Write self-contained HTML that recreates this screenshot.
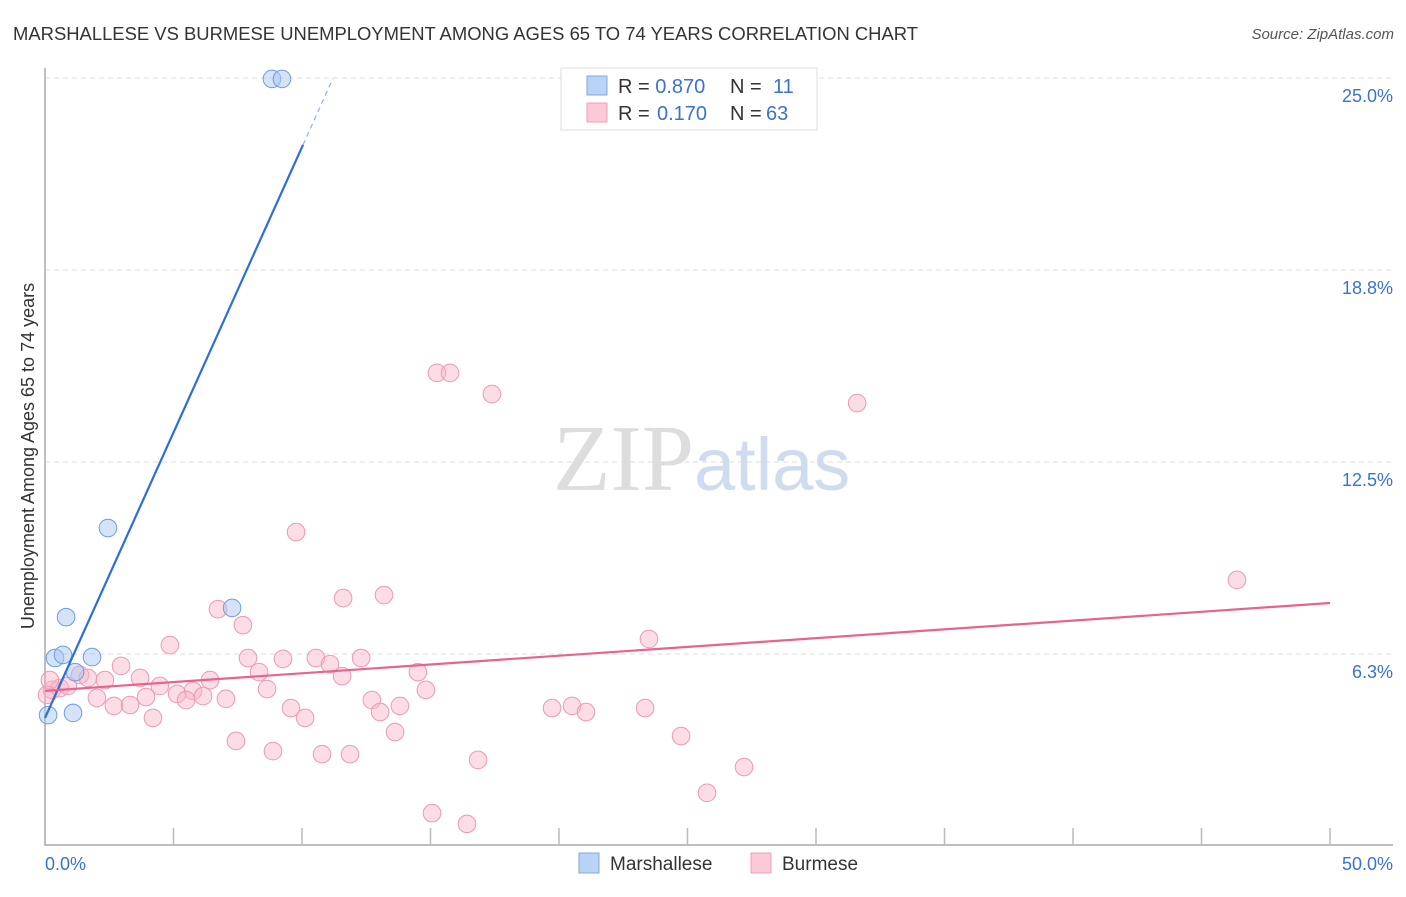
<!DOCTYPE html>
<html><head><meta charset="utf-8"><style>
body{margin:0;background:#fff;font-family:"Liberation Sans",sans-serif}
</style></head><body>
<svg width="1406" height="892" xmlns="http://www.w3.org/2000/svg" font-family="Liberation Sans, sans-serif">
<text x="13" y="40" font-size="18" fill="#333" textLength="905" lengthAdjust="spacingAndGlyphs">MARSHALLESE VS BURMESE UNEMPLOYMENT AMONG AGES 65 TO 74 YEARS CORRELATION CHART</text>
<text x="1394" y="39" font-size="15" fill="#555" text-anchor="end" font-style="italic">Source: ZipAtlas.com</text>
<g id="grid"></g>
<text x="553" y="490" font-size="94" fill="#ddd" font-family="Liberation Serif, serif">ZIP<tspan fill="#cfdcf0" font-family="Liberation Sans, sans-serif" font-size="74">atlas</tspan></text>
<g id="marks"></g>
<text transform="translate(34,456) rotate(-90)" font-size="18" fill="#333" text-anchor="middle">Unemployment Among Ages 65 to 74 years</text>
<g>
<rect x="561" y="68" width="256" height="62" fill="#fff" stroke="#ddd"/>
<rect x="587" y="76" width="20" height="19" fill="#b9d3f5" stroke="#7fa8e0"/>
<rect x="587" y="103" width="20" height="19" fill="#fbc9d8" stroke="#efa0b8"/>
<text x="618" y="93" font-size="20" fill="#333">R = <tspan fill="#3a72d0">0.870</tspan><tspan x="730">N = </tspan><tspan x="773" fill="#3a72d0">11</tspan></text>
<text x="618" y="120" font-size="20" fill="#333">R = <tspan x="657" fill="#3a72d0">0.170</tspan><tspan x="730">N = </tspan><tspan x="766" fill="#3a72d0">63</tspan></text>
</g>
<g>
<rect x="579" y="853" width="20" height="20" fill="#b9d3f5" stroke="#7fa8e0"/>
<text x="610" y="870" font-size="19" fill="#333">Marshallese</text>
<rect x="751" y="853" width="20" height="20" fill="#fbc9d8" stroke="#efa0b8"/>
<text x="782" y="870" font-size="19" fill="#333">Burmese</text>
</g>
</svg>
<script>
const yTicks=[6.25,12.5,18.75,25];
const yTickLabels=["6.3%","12.5%","18.8%","25.0%"];
const xTickLabels=["0.0%","50.0%"];
const marshX=[8.83,9.22,2.45,0.82,7.28,0.39,0.70,1.83,1.17,1.09,0.12];
const marshY=[24.97,24.97,10.35,7.45,7.75,6.12,6.22,6.15,5.66,4.33,4.26];
const burmX=[15.25,15.76,17.39,31.6,9.77,46.38,11.6,13.19,6.73,7.70,4.86,23.5,7.90,9.26,10.54,12.30,2.96,11.09,8.33,14.51,3.70,6.42,11.56,2.33,4.47,8.64,5.76,5.14,14.82,6.15,5.49,2.02,7.04,3.93,12.72,2.68,3.31,9.57,13.81,19.73,20.51,21.05,23.35,13.04,10.12,4.20,13.62,24.75,7.43,8.87,10.78,11.87,16.85,27.2,25.76,15.06,16.42,0.27,0.58,0.89,1.36,1.67,0.19,0.08];
const burmY=[15.40,15.40,14.71,14.42,10.22,8.66,8.07,8.17,7.71,7.19,6.54,6.74,6.12,6.09,6.12,6.12,5.86,5.92,5.66,5.66,5.47,5.40,5.53,5.40,5.21,5.11,5.05,4.95,5.08,4.88,4.75,4.82,4.79,4.85,4.75,4.56,4.59,4.49,4.56,4.49,4.56,4.36,4.49,4.36,4.17,4.17,3.71,3.58,3.42,3.09,2.99,2.99,2.80,2.57,1.73,1.07,0.72,5.08,5.14,5.21,5.57,5.47,5.40,4.92];
const marshFit=[4.17,1.858];
const burmFit=[5.05,0.0572];
const NS="http://www.w3.org/2000/svg";
const X=v=>45+v*25.7, Y=v=>846-v*30.72;
function mk(p,t,a){const e=document.createElementNS(NS,t);for(const k in a)e.setAttribute(k,a[k]);p.appendChild(e);return e;}
const grid=document.getElementById('grid'),marks=document.getElementById('marks');
yTicks.forEach((t,i)=>{
 const l=mk(grid,'line',{x1:45,x2:1393,y1:Y(t),y2:Y(t),stroke:'#ddd','stroke-dasharray':'5,4'});
 
 
 const tx=mk(grid,'text',{x:1393,y:Y(t)+24,'font-size':18,fill:'#3a72d0','text-anchor':'end'});
 tx.textContent=yTickLabels[i];
 
 
});
const ax=mk(grid,'path',{d:'M45 68V845H1393',fill:'none',stroke:'#aaa','stroke-width':1.5});


for(let k=1;k<=10;k++){const t=mk(grid,'line',{x1:45+128.5*k,x2:45+128.5*k,y1:828,y2:845,stroke:'#bbb','stroke-width':1.5});
 
 }
[[0,45,'start'],[1,1393,'end']].forEach(([i,x,a])=>{const t=mk(grid,'text',{x:x,y:870,'font-size':18,fill:'#3a72d0','text-anchor':a});t.textContent=xTickLabels[i];
 
 });
burmX.forEach((x,i)=>{const c=mk(marks,'circle',{cx:X(x),cy:Y(burmY[i]),r:8.8,fill:'rgba(248,180,200,0.45)',stroke:'#eb9ab4','stroke-width':1});
 
 });
marshX.forEach((x,i)=>{const c=mk(marks,'circle',{cx:X(x),cy:Y(marshY[i]),r:8.8,fill:'rgba(170,200,240,0.5)',stroke:'#6e9de0','stroke-width':1});
 
 });
const bl=mk(marks,'line',{x1:X(0),y1:Y(marshFit[0]),x2:X(10.04),y2:Y(marshFit[0]+marshFit[1]*10.04),stroke:'#2c6fd6','stroke-width':2.2});


const bd=mk(marks,'line',{x1:X(10.04),y1:Y(marshFit[0]+marshFit[1]*10.04),x2:X(11.2),y2:Y(marshFit[0]+marshFit[1]*11.2),stroke:'#8fb2e8','stroke-width':1.2,'stroke-dasharray':'5,4'});


const pl=mk(marks,'line',{x1:X(0),y1:Y(burmFit[0]),x2:X(50),y2:Y(burmFit[0]+burmFit[1]*50),stroke:'#e8638d','stroke-width':2.2});


</script>
</body></html>
